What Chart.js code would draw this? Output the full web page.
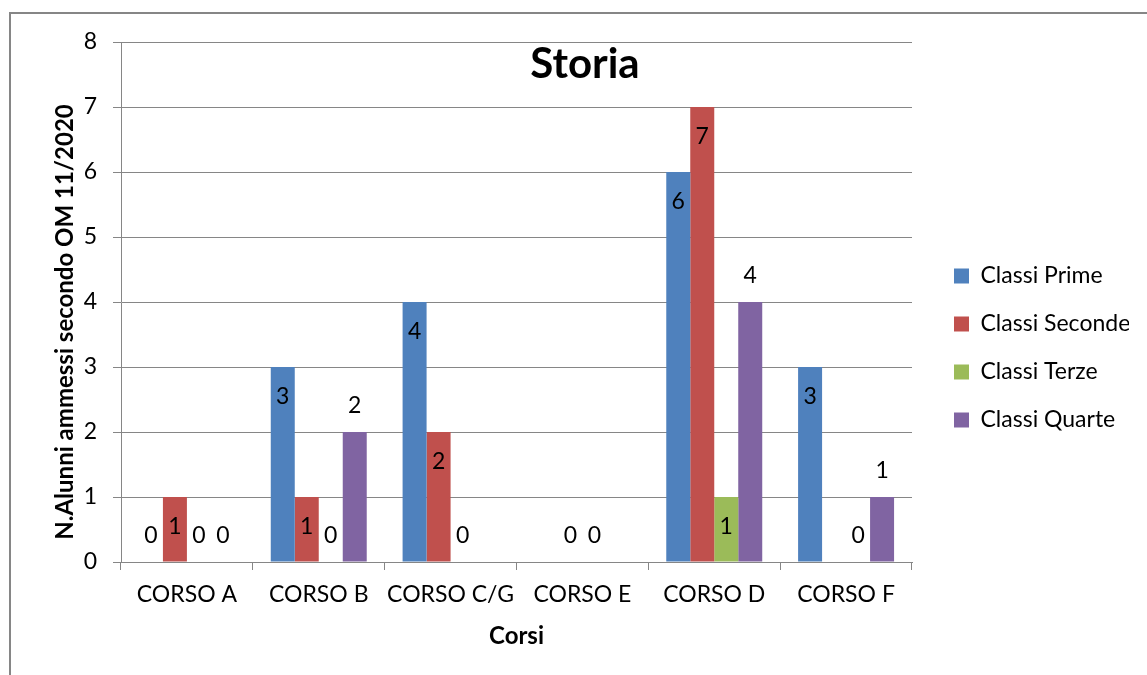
<!DOCTYPE html>
<html>
<head>
<meta charset="utf-8">
<script src="https://cdn.jsdelivr.net/npm/chart.js@4.4.1/dist/chart.umd.min.js"></script>
<style>
  html, body { margin: 0; padding: 0; background: #fff; overflow: hidden; }
  #wrap { position: relative; width: 1147px; height: 675px; }
  #frame { position: absolute; left: 9px; top: 12px; width: 1400px; height: 900px; border: 2px solid #868686; }
  canvas { position: absolute; left: 0; top: 0; }
</style>
</head>
<body>
<div id="wrap">
  <div id="frame"></div>
  <canvas id="chart" width="1147" height="675"></canvas>
</div>
<script>
// categories and series (null = no bar and no label)
const corsi = ["CORSO A", "CORSO B", "CORSO C/G", "CORSO E", "CORSO D", "CORSO F"];
const classiPrime = [0, 3, 4, null, 6, 3];
const classiSeconde = [1, 1, 2, 0, 7, null];
const classiTerze = [0, 0, 0, 0, 1, 0];
const classiQuarte = [0, 2, null, null, 4, 1];
const yMin = 0;
const yMax = 8;
const yStep = 1;

const FONT = "Lato";
const GRID = "#868686";

// value labels: inside end for the first three series, outside end for the last one
const valueLabels = {
  id: "valueLabels",
  afterDatasetsDraw(chart) {
    const ctx = chart.ctx;
    ctx.save();
    ctx.font = "23px " + FONT;
    ctx.fillStyle = "#000";
    ctx.textAlign = "center";
    ctx.textBaseline = "middle";
    chart.data.datasets.forEach((ds, i) => {
      chart.getDatasetMeta(i).data.forEach((bar, j) => {
        const v = ds.data[j];
        if (v === null || v === undefined) return;
        const y = (v === 0 || ds.outside) ? bar.y - 26 : bar.y + 30;
        ctx.fillText(String(v), bar.x, y);
      });
    });
    ctx.restore();
  }
};

// chart title inside the plot area and the y title a bit below centre, like the original
const extraTitles = {
  id: "extraTitles",
  afterDraw(chart) {
    const ctx = chart.ctx;
    ctx.save();
    ctx.fillStyle = "#000";
    ctx.textAlign = "center";
    ctx.textBaseline = "middle";
    ctx.font = "bold 42px " + FONT;
    ctx.fillText("Storia", 585, 64);
    ctx.translate(65, 322);
    ctx.rotate(-Math.PI / 2);
    ctx.font = "bold 24px " + FONT;
    ctx.fillText("N.Alunni ammessi secondo OM 11/2020", 0, 0);
    ctx.restore();
  }
};

new Chart(document.getElementById("chart"), {
  type: "bar",
  data: {
    labels: corsi,
    datasets: [
      { label: "Classi Prime", data: classiPrime, backgroundColor: "#4F81BD" },
      { label: "Classi Seconde", data: classiSeconde, backgroundColor: "#C0504D" },
      { label: "Classi Terze", data: classiTerze, backgroundColor: "#9BBB59" },
      { label: "Classi Quarte", data: classiQuarte, backgroundColor: "#8064A2", outside: true },
    ],
  },
  options: {
    responsive: false,
    animation: false,
    categoryPercentage: 0.728,
    barPercentage: 1,
    layout: { padding: { top: 42, bottom: 21, left: 0, right: 18 } },
    plugins: {
      title: { display: false },
      tooltip: { enabled: false },
      legend: {
        position: "right",
        maxWidth: 200,
        labels: {
          boxWidth: 15,
          boxHeight: 15,
          padding: 25,
          color: "#000",
          font: { family: FONT, size: 23 },
        },
      },
    },
    scales: {
      x: {
        grid: { offset: true, drawOnChartArea: false, drawTicks: true, tickLength: 8, color: GRID },
        border: { display: true, color: GRID },
        ticks: {
          color: "#000",
          padding: 11,
          autoSkip: false,
          maxRotation: 0,
          minRotation: 0,
          font: { family: FONT, size: 23 },
        },
        title: {
          display: true,
          text: "Corsi",
          color: "#000",
          font: { family: FONT, size: 24, weight: "bold" },
          padding: { top: 0, bottom: 3 },
        },
        afterFit(scale) { scale.height = 92; },
      },
      y: {
        min: yMin,
        max: yMax,
        ticks: { stepSize: yStep, color: "#000", padding: 16, font: { family: FONT, size: 23 } },
        grid: { color: GRID, tickLength: 8 },
        border: { display: true, color: GRID },
        afterFit(scale) { scale.width = 121; },
      },
      gap: {
        type: "linear",
        position: "right",
        display: true,
        grid: { display: false, drawTicks: false },
        border: { display: false },
        ticks: { display: false },
        afterFit(scale) { scale.width = 17; },
      },
    },
  },
  plugins: [valueLabels, extraTitles],
});
</script>
</body>
</html>
